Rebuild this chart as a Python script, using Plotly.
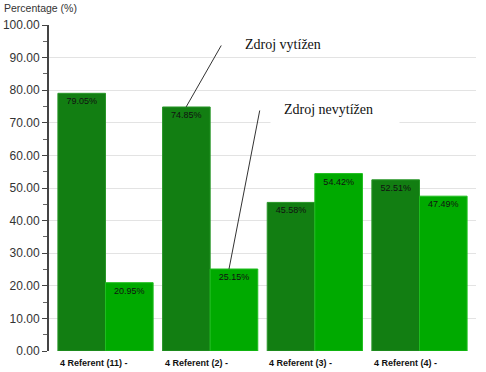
import plotly.graph_objects as go

categories = ["4 Referent (11) -", "4 Referent (2) -", "4 Referent (3) -", "4 Referent (4) -"]
vytizen = [79.05, 74.85, 45.58, 52.51]
nevytizen = [20.95, 25.15, 54.42, 47.49]
series_names = ["Zdroj vytížen", "Zdroj nevytížen"]
ytick_vals = [0, 10, 20, 30, 40, 50, 60, 70, 80, 90, 100]
ytick_text = ["%.2f" % v for v in ytick_vals]

W, H = 486, 372
ML, MR, MT, MB = 49, 10, 25, 21
PW = W - ML - MR
PH = H - MT - MB

dark = "rgb(18,126,18)"
light = "rgb(0,170,0)"
xs = list(range(len(categories)))

fig = go.Figure()
for vals, col, edge, name in [(vytizen, dark, "rgb(40,150,40)", series_names[0]),
                              (nevytizen, light, "rgb(30,190,30)", series_names[1])]:
    fig.add_trace(go.Bar(
        x=xs, y=vals, name=name,
        marker=dict(color=col, line=dict(color=edge, width=1)),
        text=["%.2f%%" % v for v in vals],
        textposition="inside", insidetextanchor="end",
        textfont=dict(family="Liberation Sans, Arial", size=9, color="#111"),
        constraintext="none", textangle=0,
        hoverinfo="skip",
    ))

def px_x(p):
    return (p - ML) / PW

def px_y(p):
    return 1 - (p - MT) / PH

ann = []
# category labels, left aligned at group start
for i, c in enumerate(categories):
    ann.append(dict(x=i - 0.455, y=0, xref="x", yref="y", text="<b>" + c + "</b>",
                    showarrow=False, xanchor="left", yanchor="middle", yshift=-12,
                    font=dict(family="Liberation Sans, Arial", size=9, color="#111")))
# axis title
ann.append(dict(x=px_x(2), y=px_y(8), xref="paper", yref="paper", text="Percentage (%)",
                showarrow=False, xanchor="left", yanchor="middle",
                font=dict(family="Liberation Sans, Arial", size=10.5, color="#333")))
# callout lines
ann.append(dict(x=1 - 0.23, y=vytizen[1], xref="x", yref="y", text="", showarrow=True,
                arrowhead=0, arrowwidth=1, arrowcolor="#333", ax=36, ay=-63, standoff=0))
ann.append(dict(x=1 + 0.18, y=nevytizen[1], xref="x", yref="y", text="", showarrow=True,
                arrowhead=0, arrowwidth=1, arrowcolor="#333", ax=31, ay=-160, standoff=0))
# white box behind second callout text
ann.append(dict(x=px_x(270), y=px_y(94), xref="paper", yref="paper", text=" ",
                showarrow=False, xanchor="left", yanchor="top", width=128, height=32,
                bgcolor="white", borderpad=0))
# callout texts
ann.append(dict(x=px_x(243), y=px_y(44), xref="paper", yref="paper", text=series_names[0],
                showarrow=False, xanchor="left", yanchor="middle",
                font=dict(family="Liberation Serif, Times New Roman", size=14, color="#111")))
ann.append(dict(x=px_x(282), y=px_y(109), xref="paper", yref="paper", text=series_names[1],
                showarrow=False, xanchor="left", yanchor="middle",
                font=dict(family="Liberation Serif, Times New Roman", size=14, color="#111")))

fig.update_layout(
    width=W, height=H,
    margin=dict(l=ML, r=MR, t=MT, b=MB, pad=0, autoexpand=False),
    paper_bgcolor="white", plot_bgcolor="white",
    barmode="group", bargap=0.09, bargroupgap=0,
    showlegend=False,
    annotations=ann,
    font=dict(family="Liberation Sans, Arial", color="#333"),
    xaxis=dict(range=[-0.54, 3.54], showticklabels=False, showgrid=False, zeroline=False,
               showline=False, ticks="", fixedrange=True, automargin=False),
    yaxis=dict(range=[0, 100], tickvals=ytick_vals, ticktext=ytick_text, automargin=False,
               showgrid=True, gridcolor="#e3e3e3", gridwidth=1, zeroline=False,
               showline=True, linecolor="#444", linewidth=2,
               ticks="outside", ticklen=5, tickcolor="#444", tickwidth=1,
               tickfont=dict(family="Liberation Sans, Arial", size=12, color="#333"),
               minor=dict(dtick=5, ticks="outside", ticklen=4, tickcolor="#666", showgrid=False),
               fixedrange=True),
)

fig.write_html("out.html", config={"displayModeBar": False},
               post_script="document.body.style.margin='0';document.body.style.padding='0';")
